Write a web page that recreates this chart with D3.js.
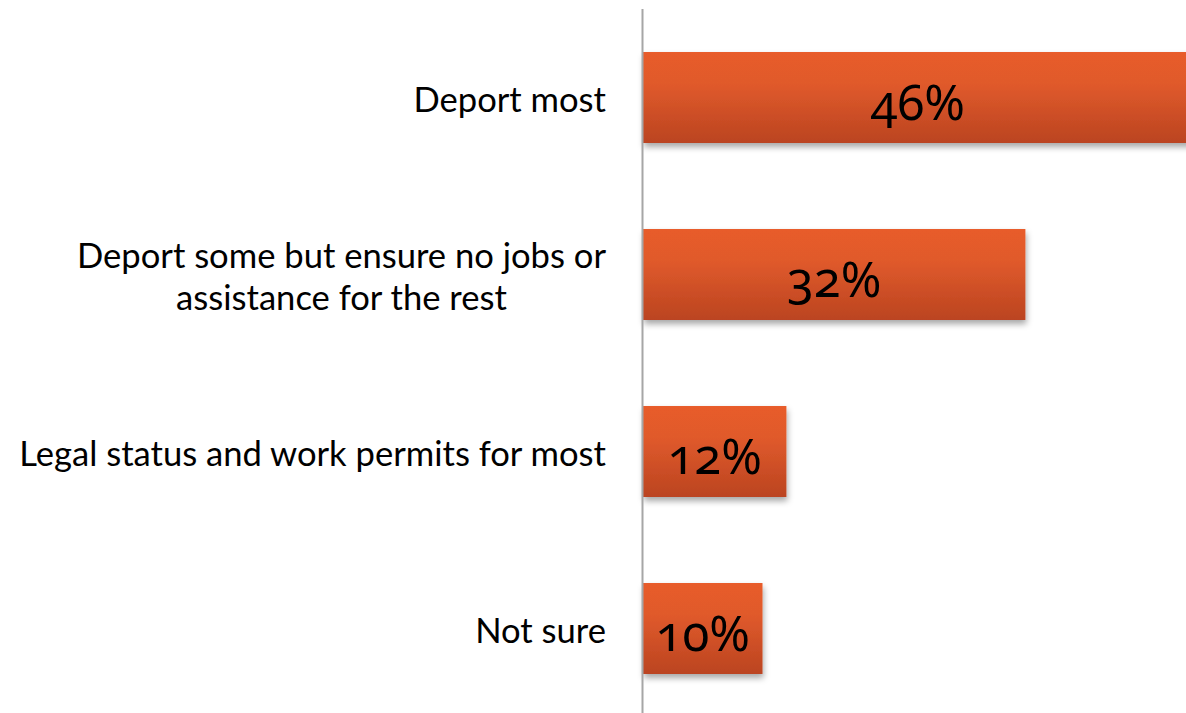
<!DOCTYPE html>
<html>
<head>
<meta charset="utf-8">
<script src="https://cdn.jsdelivr.net/npm/d3@7"></script>
<style>
  html, body { margin: 0; padding: 0; background: #fff; overflow: hidden; }
  svg { display: block; }
</style>
</head>
<body>
<svg id="chart" width="1186" height="713"></svg>
<script>
const categories = [
  ["Deport most"],
  ["Deport some but ensure no jobs or", "assistance for the rest"],
  ["Legal status and work permits for most"],
  ["Not sure"]
];
const values = [46, 32, 12, 10];
const valueLabels = ["46%", "32%", "12%", "10%"];

const svg = d3.select("#chart");
const W = 1186, H = 713;
const x0 = 643;

const x = d3.scaleLinear().domain([0, 50]).range([x0, x0 + 50 * 11.95]);
const y = d3.scaleBand().domain(d3.range(categories.length))
  .range([9, 717]).paddingInner(0.486).paddingOuter(0.243);

const defs = svg.append("defs");
const grad = defs.append("linearGradient").attr("id", "barGrad")
  .attr("x1", 0).attr("y1", 0).attr("x2", 0).attr("y2", 1);
grad.append("stop").attr("offset", "0%").attr("stop-color", "#E85B2B");
grad.append("stop").attr("offset", "35%").attr("stop-color", "#E05A2C");
grad.append("stop").attr("offset", "100%").attr("stop-color", "#BB4420");

const filt = defs.append("filter").attr("id", "shadow")
  .attr("x", "-5%").attr("y", "-10%").attr("width", "115%").attr("height", "130%");
filt.append("feDropShadow").attr("dx", 1).attr("dy", 4).attr("stdDeviation", 3)
  .attr("flood-color", "#000").attr("flood-opacity", 0.35);

// bars
svg.append("g").selectAll("rect").data(values).join("rect")
  .attr("x", x(0))
  .attr("y", (d, i) => y(i))
  .attr("width", d => x(d) - x(0))
  .attr("height", y.bandwidth())
  .attr("fill", "url(#barGrad)")
  .attr("filter", "url(#shadow)");

// axis line (vertical)
const yAxis = d3.axisLeft(y).tickSize(0).tickFormat("");
const axisG = svg.append("g").attr("transform", `translate(${x0 - 0.5},0)`).call(yAxis);
axisG.select(".domain").attr("stroke", "#A6A6A6").attr("stroke-width", 2)
  .attr("d", `M0,9V${H}`);

// category labels
const labelG = svg.append("g");
categories.forEach((lines, i) => {
  const cy = y(i) + y.bandwidth() / 2;
  const lh = 42;
  const multi = lines.length > 1;
  const t = labelG.append("text")
    .attr("text-anchor", multi ? "middle" : "end")
    .attr("font-family", "Lato, 'Open Sans', sans-serif")
    .attr("font-size", 34.6)
    .attr("fill", "#000");
  lines.forEach((ln, j) => {
    t.append("tspan")
      .attr("x", multi ? 341.5 : 606)
      .attr("y", cy + 14.5 + (j - (lines.length - 1) / 2) * lh)
      .text(ln);
  });
});

// value labels
svg.append("g").selectAll("text").data(values).join("text")
  .attr("x", d => (x(0) + x(d)) / 2)
  .attr("y", (d, i) => y(i) + y.bandwidth() / 2 + 22.5)
  .attr("text-anchor", "middle")
  .attr("font-family", "'Noto Sans', Lato, sans-serif")
  .attr("font-size", 49)
  .style("font-variant-numeric", "oldstyle-nums")
  .attr("fill", "#000")
  .text((d, i) => valueLabels[i]);
</script>
</body>
</html>
